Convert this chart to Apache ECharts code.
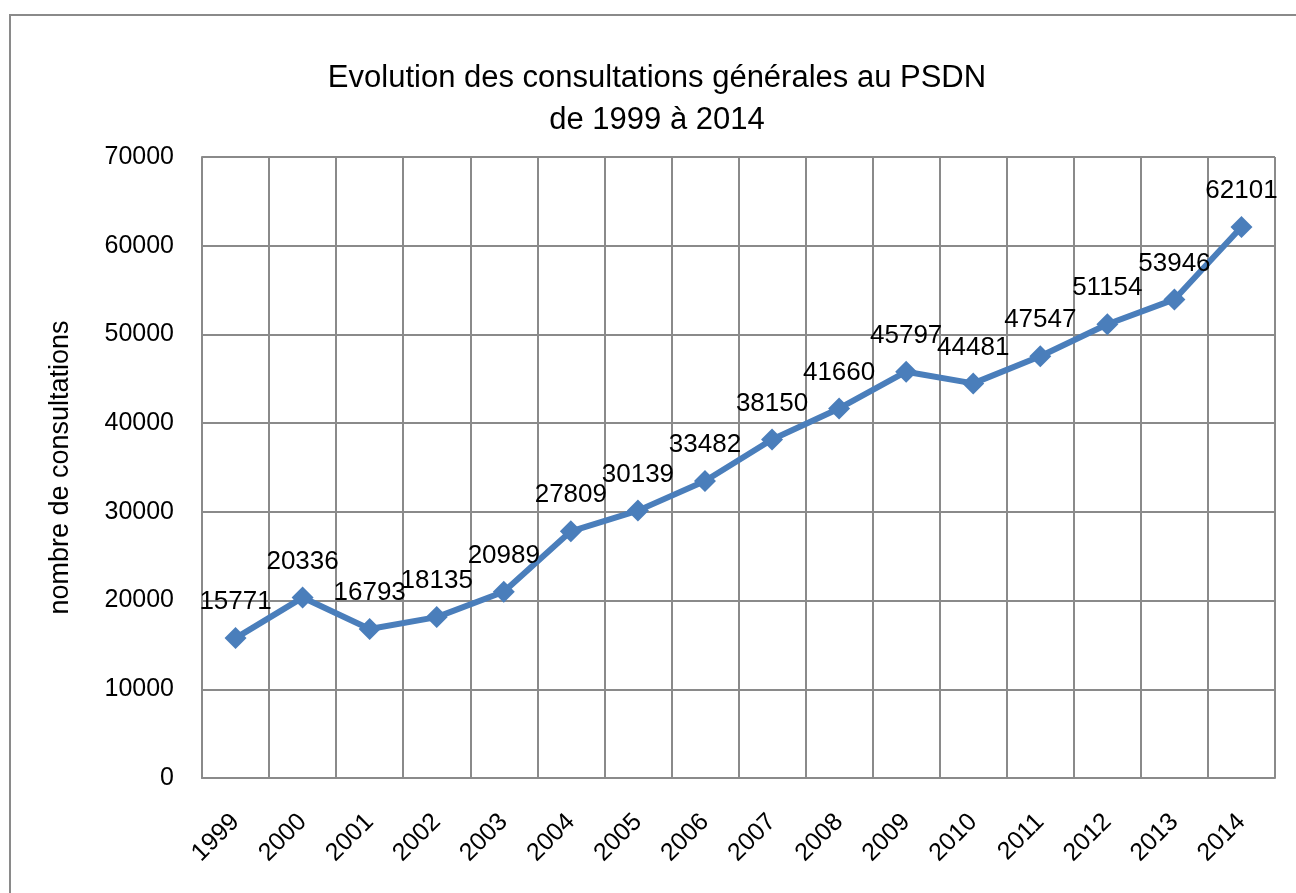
<!DOCTYPE html>
<html>
<head>
<meta charset="utf-8">
<script src="https://cdn.jsdelivr.net/npm/echarts@6/dist/echarts.min.js"></script>
<style>
  html, body { margin: 0; padding: 0; background: #fff; }
  #chart { width: 1296px; height: 893px; }
</style>
</head>
<body>
<div id="chart"></div>
<script>
// données
var years = ['1999', '2000', '2001', '2002', '2003', '2004', '2005', '2006',
             '2007', '2008', '2009', '2010', '2011', '2012', '2013', '2014'];
var consultations = [15771, 20336, 16793, 18135, 20989, 27809, 30139, 33482,
                     38150, 41660, 45797, 44481, 47547, 51154, 53946, 62101];

var gridColor = '#8a8a8a';
var fontFam = '"Liberation Sans", Arial, sans-serif';

var chart = echarts.init(document.getElementById('chart'));
chart.setOption({
  animation: false,
  textStyle: { fontFamily: fontFam },
  graphic: [{
    type: 'rect',
    shape: { x: 10, y: 15, width: 1400, height: 1000 },
    style: { fill: 'none', stroke: '#8a8a8a', lineWidth: 2 },
    silent: true
  }],
  title: {
    text: 'Evolution des consultations générales au PSDN\nde 1999 à 2014',
    left: 652,
    top: 52,
    textAlign: 'center',
    textStyle: {
      fontFamily: fontFam,
      fontWeight: 'normal',
      fontSize: 31,
      lineHeight: 42,
      color: '#000'
    }
  },
  grid: { left: 202, right: 21, top: 157, bottom: 115, containLabel: false },
  xAxis: {
    type: 'category',
    data: years,
    boundaryGap: true,
    axisLine: { lineStyle: { color: gridColor, width: 2 } },
    axisTick: { show: false },
    splitLine: { show: true, lineStyle: { color: gridColor, width: 2 } },
    axisLabel: {
      rotate: 45,
      margin: 40,
      fontSize: 25,
      color: '#000',
      fontFamily: fontFam
    }
  },
  yAxis: {
    type: 'value',
    min: 0,
    max: 70000,
    interval: 10000,
    name: 'nombre de consultations',
    nameLocation: 'middle',
    nameRotate: 90,
    nameGap: 128,
    nameTextStyle: { fontSize: 27, color: '#000', fontFamily: fontFam },
    axisLine: { show: true, lineStyle: { color: gridColor, width: 2 } },
    axisTick: { show: false },
    splitLine: { show: true, lineStyle: { color: gridColor, width: 2 } },
    axisLabel: {
      margin: 28,
      fontSize: 25,
      color: '#000',
      fontFamily: fontFam,
      formatter: function (v) { return String(v); }
    }
  },
  series: [{
    type: 'line',
    data: consultations,
    symbol: 'diamond',
    symbolSize: 22,
    lineStyle: { color: '#4a7ebb', width: 6 },
    itemStyle: { color: '#4a7ebb' },
    label: {
      show: true,
      position: 'top',
      distance: 12,
      fontSize: 26,
      color: '#000',
      fontFamily: fontFam
    }
  }]
});
</script>
</body>
</html>
